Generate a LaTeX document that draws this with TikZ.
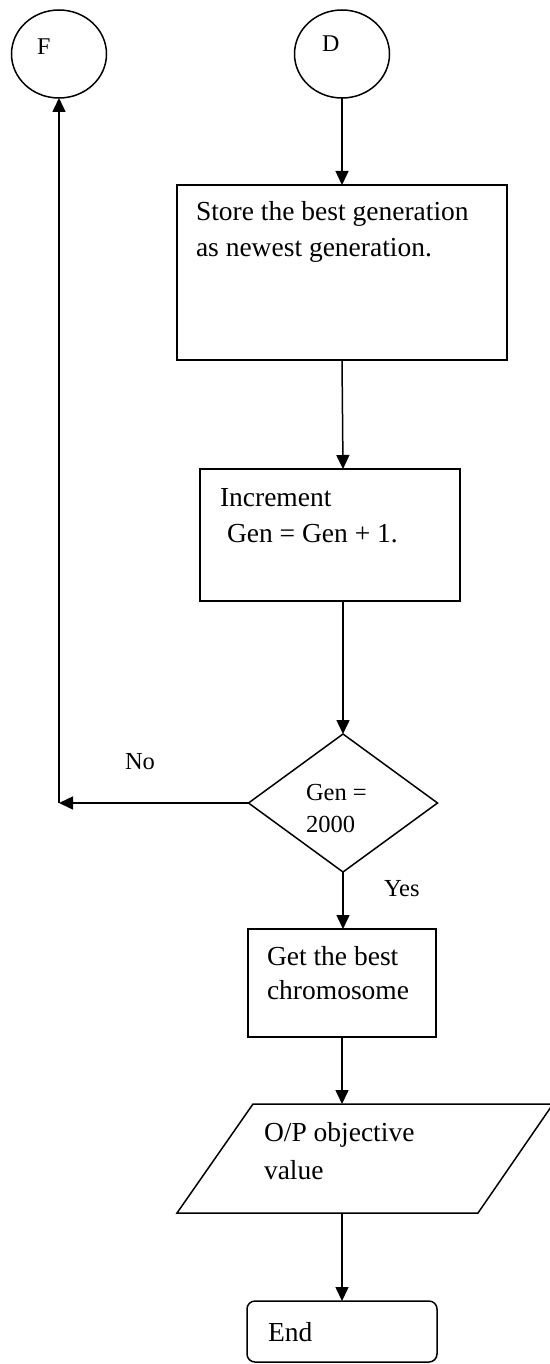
\documentclass[tikz,border=0pt]{standalone}
\usepackage{fontspec}
\setmainfont{Liberation Serif}
\usetikzlibrary{shapes.geometric,arrows.meta,calc}

\tikzset{
  flow/.style={line width=1.5pt, line cap=butt},
  arr/.style={flow, -{Triangle[length=14pt,width=13pt]}},
  stepbox/.style={draw, flow, rectangle, inner sep=0pt, outer sep=0pt},
  endbox/.style={stepbox, rounded corners=8pt},
  conn/.style={draw, flow, ellipse, inner sep=0pt, outer sep=0pt,
    minimum width=95pt, minimum height=88pt},
  decide/.style={draw, flow, diamond, inner sep=0pt, outer sep=0pt,
    minimum width=189pt, minimum height=138pt},
  txt/.style={anchor=base west, inner sep=0pt, outer sep=0pt,
    font=\fontsize{27.5}{35}\selectfont},
  small/.style={txt, font=\fontsize{24.5}{30}\selectfont},
  letter/.style={txt, font=\fontsize{24}{28}\selectfont},
}

\begin{document}
\begin{tikzpicture}[x=1pt, y=-1pt]
\useasboundingbox (0,0) rectangle (549,1364);

% off-page connectors
\node[conn] (F) at (59,54) {};
\node[conn] (D) at (342,54) {};
\node[letter] (Ft) at (37,55) {F};
\node[letter] (Dt) at (322,52) {D};

% process boxes
\node[stepbox, minimum width=330pt, minimum height=175pt] (store) at (342,272.5) {};
\node[txt] (store1) at (196,221) {Store the best generation};
\node[txt] (store2) at (196,256) {as newest generation.};

\node[stepbox, minimum width=260pt, minimum height=132pt] (inc) at (330,535) {};
\node[txt] (inc1) at (220,506) {Increment};
\node[txt] (inc2) at (227,542) {Gen = Gen + 1.};

% decision
\node[decide] (dec) at (343,803) {};
\node[small] (dec1) at (306,800) {Gen =};
\node[small] (dec2) at (306,832) {2000};
\node[small] (no) at (125,769) {No};
\node[small] (yes) at (384,896) {Yes};

\node[stepbox, minimum width=188pt, minimum height=108pt] (best) at (342,983) {};
\node[txt] (best1) at (267,965) {Get the best};
\node[txt] (best2) at (267,999) {chromosome};

% output parallelogram (runs past the right edge)
\draw[flow, line join=miter] (253,1104) -- (553,1104) -- (478,1213) -- (177,1213) -- cycle;
\coordinate (outtop) at (342,1104);
\coordinate (outbot) at (342,1213);
\node[txt] (out1) at (264,1141) {O/P objective};
\node[txt] (out2) at (264,1179) {value};

% terminator
\node[endbox, minimum width=190pt, minimum height=61pt] (end) at (342,1331.5) {};
\node[txt] (endt) at (268,1341) {End};

% connectors
\coordinate (corner) at (59,803);
\draw[arr] (D.south) -- (D.south |- store.north);
\draw[arr] (store.south -| D.south) -- (dec.north |- inc.north);
\draw[arr] (dec.north |- inc.south) -- (dec.north);
\draw[arr] (dec.west) -- (corner);
\draw[arr] (corner) -- (F.south);
\draw[arr] (dec.south) -- (dec.south |- best.north);
\draw[arr] (best.south) -- (outtop);
\draw[arr] (outbot) -- (end.north);
\end{tikzpicture}
\end{document}
